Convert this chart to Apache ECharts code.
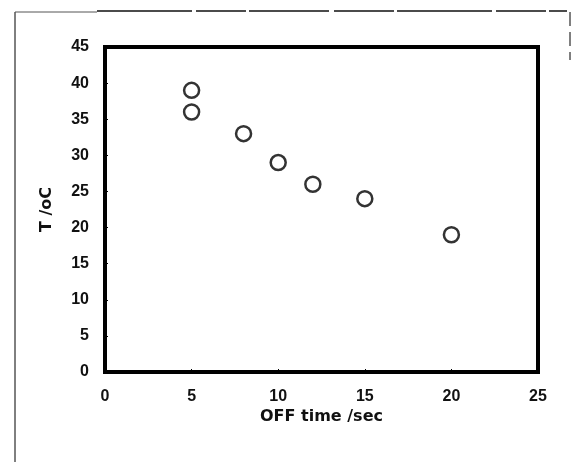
<!DOCTYPE html>
<html>
<head>
<meta charset="utf-8">
<script src="https://cdn.jsdelivr.net/npm/echarts@6/dist/echarts.min.js"></script>
<style>
  html,body{margin:0;padding:0;background:#fff;}
  #chart{width:572px;height:462px;}
</style>
</head>
<body>
<div id="chart"></div>
<script>
// data
var offTime = [5, 5, 8, 10, 12, 15, 20];
var tempC   = [39, 36, 33, 29, 26, 24, 19];
var xTicks  = [0, 5, 10, 15, 20, 25];
var yTicks  = [0, 5, 10, 15, 20, 25, 30, 35, 40, 45];

var points = [];
for (var i = 0; i < offTime.length; i++) {
  points.push([offTime[i], tempC[i]]);
}

var chart = echarts.init(document.getElementById('chart'), null, {renderer: 'canvas'});
var tickFont = '"Liberation Sans", Arial, sans-serif';
var nameFont = '"DejaVu Sans", sans-serif';

chart.setOption({
  animation: false,
  backgroundColor: '#fff',
  grid: {
    left: 105, right: 34, top: 47, bottom: 90,
    show: true,
    borderColor: '#000',
    borderWidth: 4
  },
  xAxis: {
    type: 'value',
    min: xTicks[0], max: xTicks[xTicks.length - 1], interval: 5,
    name: 'OFF time /sec',
    nameLocation: 'middle',
    nameGap: 37,
    nameMoveOverlap: false,
    nameTextStyle: {color: '#111', fontSize: 16, fontWeight: 'bold', fontFamily: nameFont},
    axisLine: {show: false},
    axisTick: {show: true, inside: true, length: 3, lineStyle: {color: '#000'}},
    axisLabel: {color: '#111', fontSize: 16, fontWeight: 'bold', fontFamily: tickFont, margin: 17},
    splitLine: {show: false}
  },
  yAxis: {
    type: 'value',
    min: yTicks[0], max: yTicks[yTicks.length - 1], interval: 5,
    name: 'T /oC',
    nameLocation: 'middle',
    nameGap: 50,
    nameMoveOverlap: false,
    nameRotate: 90,
    nameTextStyle: {color: '#111', fontSize: 16, fontWeight: 'bold', fontFamily: nameFont},
    axisLine: {show: false},
    axisTick: {show: true, inside: true, length: 3, lineStyle: {color: '#000'}},
    axisLabel: {color: '#111', fontSize: 16, fontWeight: 'bold', fontFamily: tickFont, margin: 16},
    splitLine: {show: false}
  },
  series: [{
    type: 'scatter',
    data: points,
    symbol: 'circle',
    symbolSize: 15,
    itemStyle: {color: '#fff', borderColor: '#000', borderWidth: 2.5}
  }],
  graphic: [
    // outer frame of the scanned figure
    {type: 'line', shape: {x1: 15, y1: 12, x2: 15, y2: 462}, style: {stroke: '#000', lineWidth: 1}},
    {type: 'line', shape: {x1: 15, y1: 12, x2: 97, y2: 12}, style: {stroke: '#555', lineWidth: 1}},
    {type: 'line', shape: {x1: 97, y1: 11, x2: 567, y2: 11}, style: {stroke: '#111', lineWidth: 1.5, lineDash: [95, 4, 50, 3, 80, 5, 60, 3]}},
    {type: 'line', shape: {x1: 570, y1: 12, x2: 570, y2: 60}, style: {stroke: '#000', lineWidth: 1, lineDash: [14, 6]}}
  ]
});
</script>
</body>
</html>
